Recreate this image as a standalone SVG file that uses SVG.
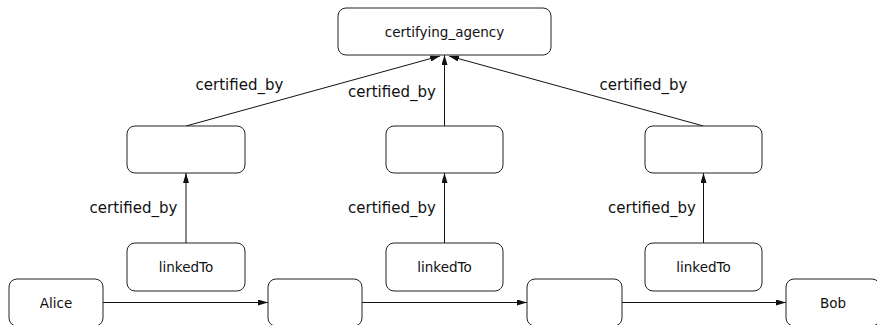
<svg xmlns="http://www.w3.org/2000/svg" width="877" height="325" viewBox="0 0 877 325">
<style>
.n{fill:#fff;stroke:#222;stroke-width:1}
.t{font-family:"DejaVu Sans",sans-serif;font-size:13.5px;fill:#111;text-anchor:middle}
.l{font-family:"DejaVu Sans",sans-serif;font-size:15px;fill:#111;text-anchor:middle}
.e{stroke:#111;stroke-width:1;fill:none;marker-end:url(#ah)}
</style>
<defs>
<marker id="ah" viewBox="0 0 10 6" refX="10" refY="3" markerWidth="10" markerHeight="6" markerUnits="userSpaceOnUse" orient="auto">
<path d="M0,0 L10,3 L0,6 z" fill="#111"/>
</marker>
</defs>
<rect width="877" height="325" fill="#fff"/>
<g id="connectors">
<line class="e" x1="186" y1="126" x2="440" y2="56"/>
<line class="e" x1="444.5" y1="126" x2="444.5" y2="55"/>
<line class="e" x1="703.5" y1="126" x2="449" y2="56"/>
<line class="e" x1="186" y1="243" x2="186" y2="173"/>
<line class="e" x1="444.5" y1="243" x2="444.5" y2="173"/>
<line class="e" x1="703.5" y1="243" x2="703.5" y2="173"/>
<line class="e" x1="103" y1="302.5" x2="268" y2="302.5"/>
<line class="e" x1="362" y1="302.5" x2="527" y2="302.5"/>
<line class="e" x1="622" y1="302.5" x2="786" y2="302.5"/>
<text class="l" x="239.5" y="90">certified_by</text>
<text class="l" x="392" y="97">certified_by</text>
<text class="l" x="643.5" y="90">certified_by</text>
<text class="l" x="133.5" y="213">certified_by</text>
<text class="l" x="392" y="213">certified_by</text>
<text class="l" x="652" y="213">certified_by</text>
</g>
<g id="certifying_agency"><rect class="n" x="338" y="8" width="213" height="47" rx="8"/><text class="t" x="444.5" y="37">certifying_agency</text></g>
<g id="mid1"><rect class="n" x="127" y="126" width="118" height="47" rx="8"/></g>
<g id="mid2"><rect class="n" x="386" y="126" width="117" height="47" rx="8"/></g>
<g id="mid3"><rect class="n" x="645" y="126" width="117" height="47" rx="8"/></g>
<g id="linked1"><rect class="n" x="127" y="243" width="118" height="48" rx="8"/><text class="t" x="186" y="272">linkedTo</text></g>
<g id="linked2"><rect class="n" x="386" y="243" width="117" height="48" rx="8"/><text class="t" x="444.5" y="272">linkedTo</text></g>
<g id="linked3"><rect class="n" x="645" y="243" width="117" height="48" rx="8"/><text class="t" x="703.5" y="272">linkedTo</text></g>
<g id="alice"><rect class="n" x="9" y="279" width="94" height="47" rx="8"/><text class="t" x="56" y="307.5">Alice</text></g>
<g id="n2"><rect class="n" x="268" y="279" width="94" height="47" rx="8"/></g>
<g id="n3"><rect class="n" x="527" y="279" width="95" height="47" rx="8"/></g>
<g id="bob"><rect class="n" x="786" y="279" width="94" height="47" rx="8"/><text class="t" x="833" y="307.5">Bob</text></g>
</svg>
